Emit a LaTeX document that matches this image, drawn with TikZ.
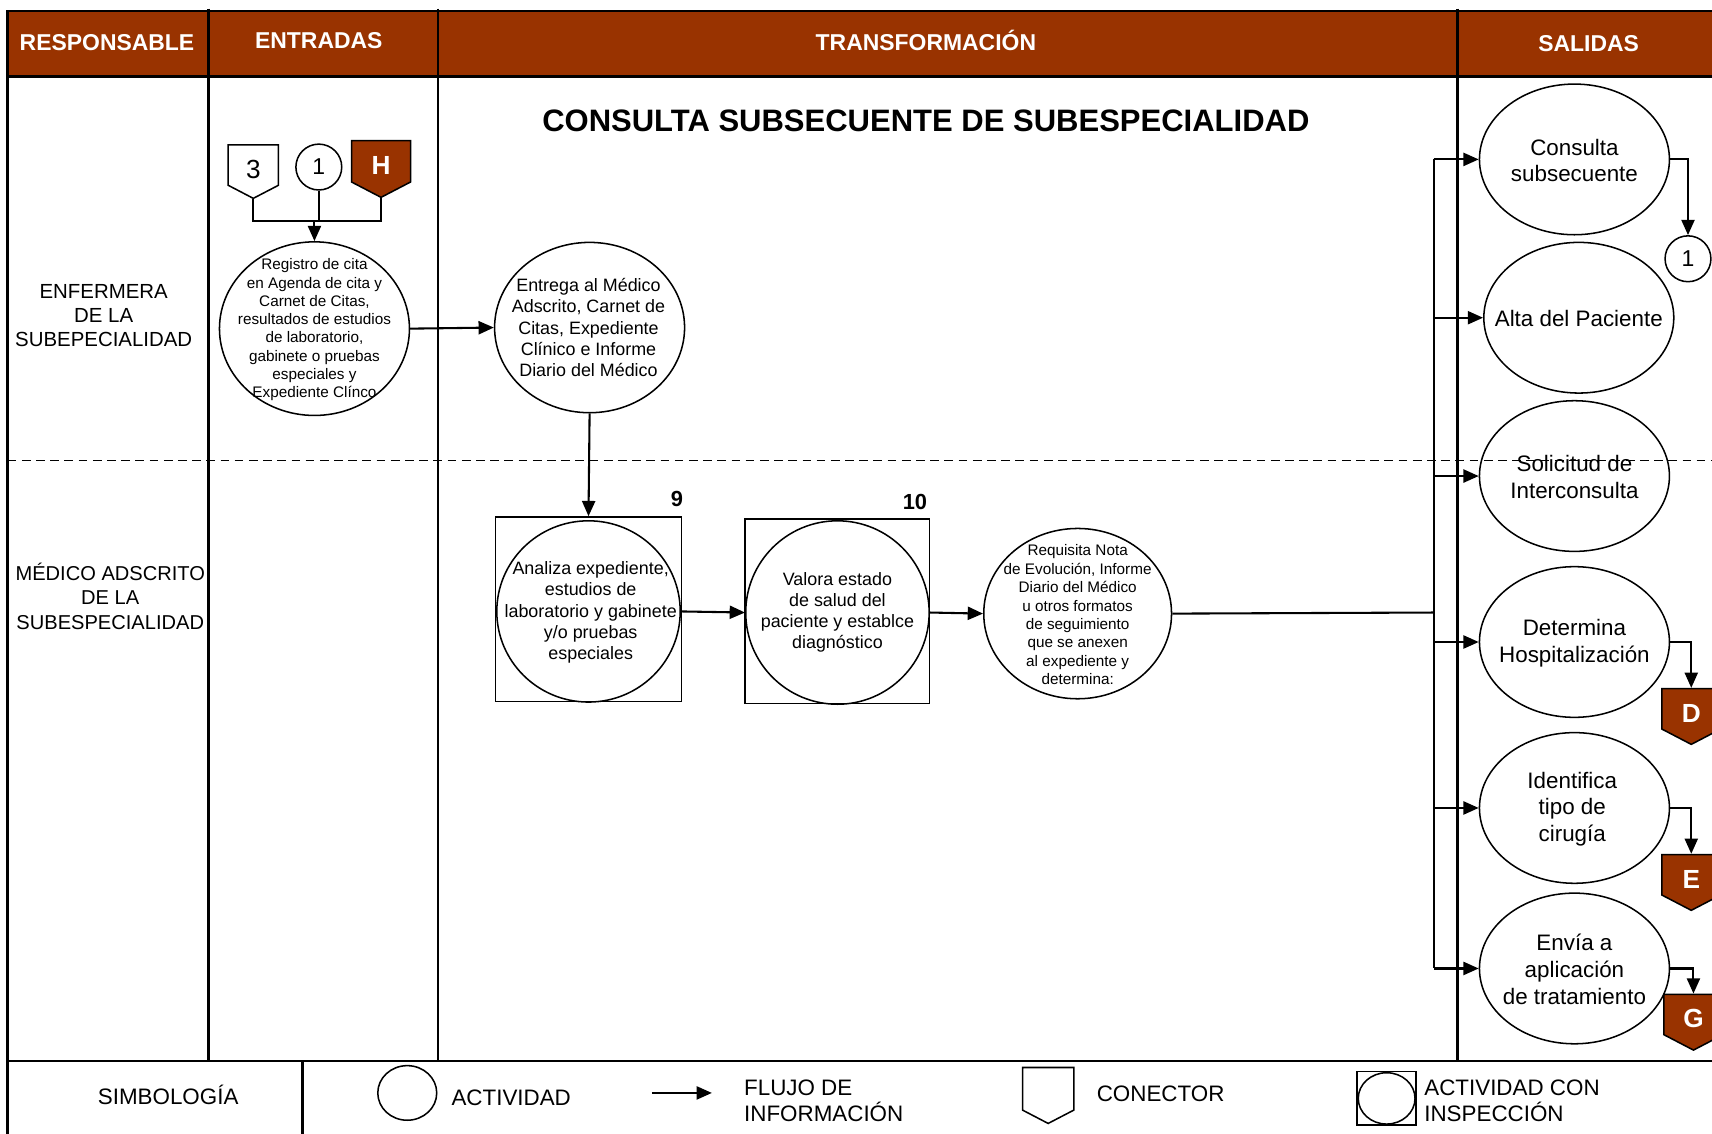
\documentclass[tikz,border=0pt]{standalone}
\usepackage{fontspec}
\setmainfont{Liberation Sans}
\usetikzlibrary{shapes.geometric,shapes.symbols,arrows.meta}
\definecolor{cafe}{RGB}{153,51,0}
\newcommand{\myfs}[2]{\fontsize{#1}{#2}\selectfont}

\begin{document}
\begin{tikzpicture}[%
                x=1pt, y=-1pt,
                myframe/.style={line width=2.2pt},
                myact/.style={draw, shape=ellipse, line width=1.4pt, inner sep=0pt},
                mybox/.style={draw, shape=rectangle, line width=1.4pt, inner sep=0pt},
                myconn/.style={draw, shape=signal, signal to=south, signal pointer angle=125,
                    line width=1.4pt, inner sep=0pt, anchor=north},
                myletter/.style={myconn, label={[font=\myfs{24}{24}, yshift=-4pt]center:#1}},
                mybrown/.style={myconn, fill=cafe,
                    label={[text=white, font=\myfs{24}{24}\bfseries, yshift=-4pt]center:#1}},
                myarrow/.style={line width=1.9pt, -{Triangle[length=14pt,width=12pt]}},
                myline/.style={line width=1.9pt},
                mytext/.style={align=center, inner sep=0pt}
        ]
            \clip (0,0) rectangle (1568,1038);
            \fill [cafe] (7,10) rectangle (1568,70);
            \draw [myframe] (1568,10) -- (7,10) -- (7,1040);
            \draw [myframe] (7,70) -- (1568,70);
            \draw [myframe] (7,972) -- (1568,972);
            \foreach \x in {191,401,1335} {
                \draw [myframe] (\x,8) -- (\x,972);
            }
            \draw [myframe] (277,972) -- (277,1040);
            \draw [line width=1.3pt, dash pattern=on 8pt off 5pt] (7,422) -- (1568,422);

            \begin{scope}[text=white, font=\myfs{21}{21}\bfseries]
                \node (hresp) at (98,39) {RESPONSABLE};
                \node (hentr) at (292,37) {ENTRADAS};
                \node (htrans) at (848,37) {TRANSFORMACIÓN};
                \node (hsal) at (1455,40) {SALIDAS};
            \end{scope}
            \node [font=\myfs{28.4}{28}\bfseries] (titulo) at (848,111) {CONSULTA SUBSECUENTE DE SUBESPECIALIDAD};
            \node [mytext, font=\myfs{18.7}{22}] (enfermera) at (95,289) {ENFERMERA\\DE LA\\SUBEPECIALIDAD};
            \node [mytext, font=\myfs{18.4}{22.5}] (medico) at (101,546) {MÉDICO ADSCRITO\\DE LA\\SUBESPECIALIDAD};

            \node [myletter=3, minimum width=46pt, minimum height=37pt] (tres) at (232,132) {};
            \node [draw, circle, line width=1.4pt, minimum size=42pt, inner sep=0pt, font=\myfs{21}{21}] (uno) at (292,153) {1};
            \node [mybrown=H, minimum width=54pt, minimum height=38pt] (hache) at (349,128) {};
            \coordinate (junta) at (288,202);
            \draw [myline] (tres.south) |- (junta) -| (hache.south);
            \draw [myline] (uno.south) -- (uno.south |- junta);

            \node [myact, minimum width=174pt, minimum height=159pt] (registro) at (288,301) {};
            \node [mytext, font=\myfs{14}{16.7}] (registrot) at (288,302) {Registro de cita\\en Agenda de cita y\\Carnet de Citas,\\resultados de estudios\\de laboratorio,\\gabinete o pruebas\\especiales y\\Expediente Clínco};
            \draw [myarrow] (junta) -- (registro.north);

            \node [myact, minimum width=174pt, minimum height=156pt] (entrega) at (540,300) {};
            \node [mytext, font=\myfs{16.4}{19.5}] (entregat) at (539,300) {Entrega al Médico\\Adscrito, Carnet de\\Citas, Expediente\\Clínico e Informe\\Diario del Médico};

            \node [mybox, minimum width=170pt, minimum height=169pt] (cajaA) at (539,558) {};
            \node [myact, minimum width=168pt, minimum height=166pt] (analiza) at (539,560) {};
            \node [mytext, font=\myfs{16.4}{19.4}] (analizat) at (541,561) {Analiza expediente,\\estudios de\\laboratorio y gabinete\\y/o pruebas\\especiales};
            \node [mybox, minimum width=169pt, minimum height=169pt] (cajaV) at (767,560) {};
            \node [myact, minimum width=168pt, minimum height=168pt] (valora) at (767,561) {};
            \node [mytext, font=\myfs{16.4}{19.4}] (valorat) at (767,561) {Valora estado\\de salud del\\paciente y establce\\diagnóstico};
            \node [font=\myfs{20}{20}\bfseries] (num9) at (620,457) {9};
            \node [font=\myfs{20}{20}\bfseries] (num10) at (838,460) {10};

            \node [myact, minimum width=172pt, minimum height=156pt] (requisita) at (987,562) {};
            \node [mytext, font=\myfs{14}{16.8}] (requisitat) at (987,563) {Requisita Nota\\de Evolución, Informe\\Diario del Médico\\u otros formatos\\de seguimiento\\que se anexen\\al expediente y\\determina:};

            \draw [myarrow] (registro.east) -- (entrega.west);
            \draw [myarrow] (entrega.south) -- (cajaA.north);
            \draw [myarrow] (analiza.east) -- (valora.west);
            \draw [myarrow] (valora.east) -- (requisita.west);

            \node [myact, minimum width=174pt, minimum height=138pt] (consulta) at (1442,146) {};
            \node [myact, minimum width=174pt, minimum height=138pt] (alta) at (1446,291) {};
            \node [myact, minimum width=174pt, minimum height=138pt] (solicitud) at (1442,436) {};
            \node [myact, minimum width=174pt, minimum height=138pt] (determina) at (1442,588) {};
            \node [myact, minimum width=174pt, minimum height=138pt] (identifica) at (1442,740) {};
            \node [myact, minimum width=174pt, minimum height=138pt] (envia) at (1442,887) {};
            \begin{scope}[mytext, font=\myfs{20.5}{24.5}]
                \node (consultat) at (1442,147) {Consulta\\subsecuente};
                \node (altat) at (1446,292) {Alta del Paciente};
                \node (solicitudt) at (1442,437) {Solicitud de\\Interconsulta};
                \node (determinat) at (1442,589) {Determina\\Hospitalización};
                \node (identificat) at (1440,741) {Identifica\\tipo de\\cirugía};
                \node (enviat) at (1442,888) {Envía a\\aplicación\\de tratamiento};
            \end{scope}

            \coordinate (bus) at (1313,561);
            \draw [myline] (requisita.east) -- (bus);
            \draw [myline] (bus |- consulta.west) -- (bus |- envia.west);
            \foreach \o in {consulta,alta,solicitud,determina,identifica,envia} {
                \draw [myarrow] (bus |- \o.west) -- (\o.west);
            }

            \node [draw, circle, line width=1.4pt, minimum size=42pt, inner sep=0pt, font=\myfs{21}{21}] (unoS) at (1546,237) {1};
            \node [mybrown=D, minimum width=54pt, minimum height=37pt] (dee) at (1549,630) {};
            \node [mybrown=E, minimum width=54pt, minimum height=37pt] (ee) at (1549,782) {};
            \node [mybrown=G, minimum width=54pt, minimum height=37pt] (gee) at (1551,910) {};
            \draw [myarrow] (consulta.east) -| (unoS.north);
            \draw [myarrow] (determina.east) -| (dee.north);
            \draw [myarrow] (identifica.east) -| (ee.north);
            \draw [myarrow] (envia.east) -| (gee.north);

            \begin{scope}[font=\myfs{20.5}{24}]
                \node (simb) at (154,1003) {SIMBOLOGÍA};
                \node [myact, minimum width=54pt, minimum height=50pt] (leyact) at (373,1001) {};
                \node [anchor=west] (leyactt) at (410,1005) {ACTIVIDAD};
                \coordinate (flujoA) at (597,1001);
                \coordinate (flujoB) at (652,1001);
                \draw [myarrow] (flujoA) -- (flujoB);
                \node [anchor=west, align=left] (leyflujo) at (678,1008) {FLUJO DE\\INFORMACIÓN};
                \node [myconn, minimum width=47pt, minimum height=39pt] (leycon) at (960,977) {};
                \node [anchor=west] (leycont) at (1001,1002) {CONECTOR};
                \node [mybox, minimum width=54pt, minimum height=49pt] (leycaja) at (1270,1006) {};
                \node [myact, minimum width=52pt, minimum height=47pt] (leyins) at (1270,1006) {};
                \node [anchor=west, align=left] (leyinst) at (1301,1008) {ACTIVIDAD CON\\INSPECCIÓN};
            \end{scope}
        \end{tikzpicture}
\end{document}
